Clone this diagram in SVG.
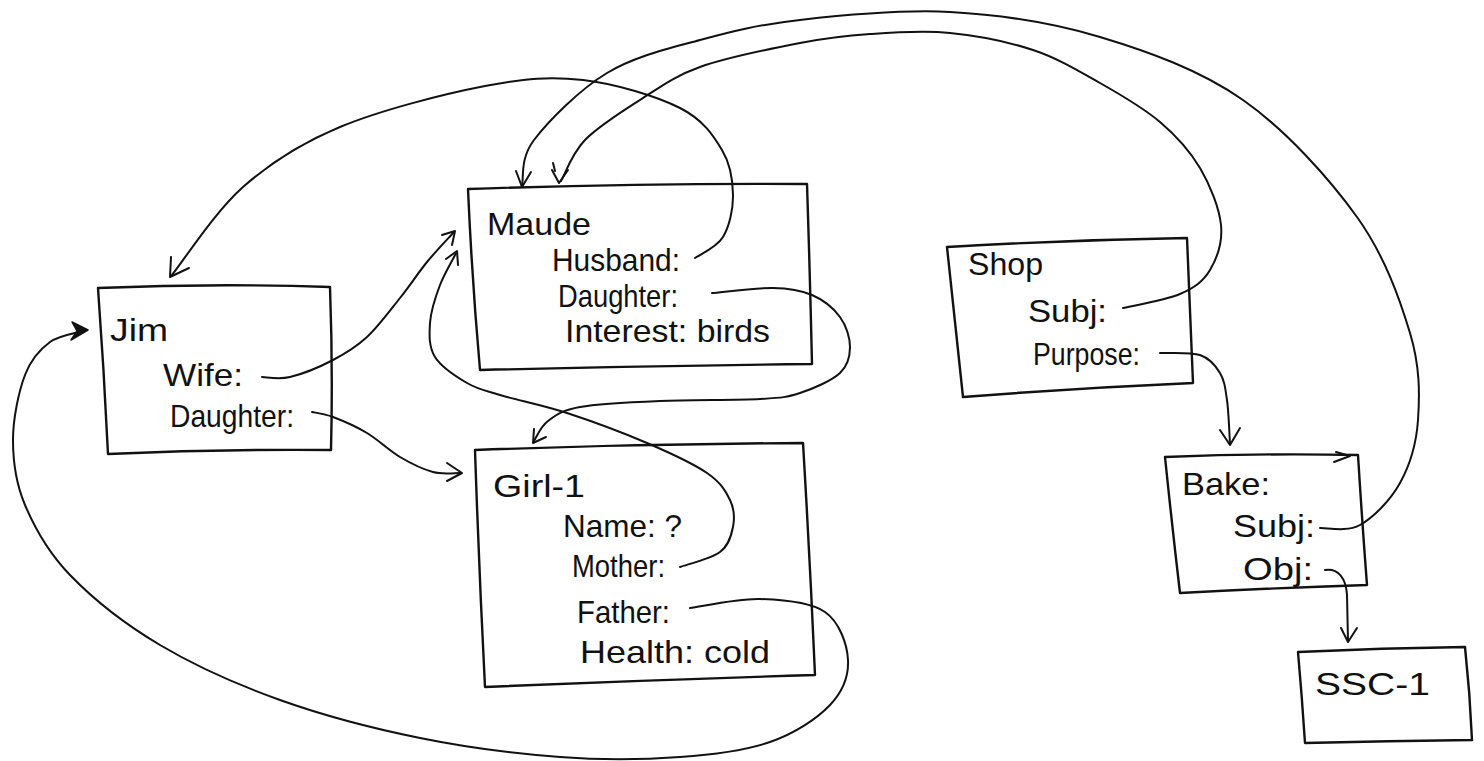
<svg xmlns="http://www.w3.org/2000/svg" width="1484" height="761" viewBox="0 0 1484 761">
<style>
.box{fill:none;stroke:#111;stroke-width:2.4;stroke-linejoin:round}
.lbl{font-family:"Liberation Sans",Arial,sans-serif;font-size:32px;fill:#111}
.wire{fill:none;stroke:#111;stroke-width:2;stroke-linecap:round}
.head{fill:none;stroke:#111;stroke-width:2;stroke-linejoin:round;stroke-linecap:round}
.solid{fill:#111;stroke:#111;stroke-width:1.5;stroke-linejoin:round}
</style>
<rect width="1484" height="761" fill="#fff"/>
<g id="connectors">
  <!-- Maude Husband -> Jim -->
  <path class="wire" d="M695,258 C699.7,254.5 716.7,247.5 723,237 C729.3,226.5 733.2,209.5 733,195 C732.8,180.5 730.8,164.5 722,150 C713.2,135.5 703.2,119.7 680,108 C656.8,96.3 615.5,83.7 583,80 C550.5,76.3 525.5,78.2 485,86 C444.5,93.8 380.3,110.2 340,127 C299.7,143.8 271,162.3 243,187 C215,211.7 183.8,260.3 172,275"/>
  <polyline class="head" points="171,257 170,277 189,268"/>
  <!-- Bake Subj -> Maude -->
  <path class="wire" d="M1320,528 C1326.7,527.5 1346.7,532.5 1360,525 C1373.3,517.5 1390.3,500.5 1400,483 C1409.7,465.5 1416.3,445 1418,420 C1419.7,395 1420.2,366.8 1410,333 C1399.8,299.2 1384.8,255.8 1357,217 C1329.2,178.2 1285.8,130 1243,100 C1200.2,70 1148.8,51.7 1100,37 C1051.2,22.3 1000,14.8 950,12 C900,9.2 841.7,15.3 800,20 C758.3,24.7 732.2,31.2 700,40 C667.8,48.8 634.7,56.3 607,73 C579.3,89.7 548.2,121.3 534,140 C519.8,158.7 524,177.5 522,185"/>
  <polyline class="head" points="516,171 522,187 531,172"/>
  <!-- Shop Subj -> Maude -->
  <path class="wire" d="M1123,308 C1132.5,305.7 1165.5,300.3 1180,294 C1194.5,287.7 1203.2,281.5 1210,270 C1216.8,258.5 1222.7,242 1221,225 C1219.3,208 1210.2,185.2 1200,168 C1189.8,150.8 1176.7,136.2 1160,122 C1143.3,107.8 1121.2,95 1100,83 C1078.8,71 1058,58.3 1033,50 C1008,41.7 977.2,35.7 950,33 C922.8,30.3 895,32.3 870,34 C845,35.7 828.3,37.5 800,43 C771.7,48.5 726.7,57.5 700,67 C673.3,76.5 659.2,87.8 640,100 C620.8,112.2 598.2,126.5 585,140 C571.8,153.5 565,174.2 561,181"/>
  <polyline class="head" points="552,170 559,183 568,170"/>
  <path class="wire" d="M553,163 L555,171"/>
  <!-- Jim Wife -> Maude -->
  <path class="wire" d="M262,377 C266.7,377 278.2,379.8 290,377 C301.8,374.2 320.2,366.7 333,360 C345.8,353.3 355.8,347.3 367,337 C378.2,326.7 390,310.5 400,298 C410,285.5 418,273 427,262 C436,251 449.5,237 454,232"/>
  <polyline class="head" points="442,235 455,231 452,245"/>
  <!-- Girl Mother -> Maude -->
  <path class="wire" d="M680,567 C686.7,564.5 711.2,558.7 720,552 C728.8,545.3 731.3,535.7 733,527 C734.7,518.3 734.3,509 730,500 C725.7,491 720.8,482.5 707,473 C693.2,463.5 670.3,453 647,443 C623.7,433 591.5,421 567,413 C542.5,405 516.7,400 500,395 C483.3,390 477.8,389.3 467,383 C456.2,376.7 441.2,367 435,357 C428.8,347 429.2,335 430,323 C430.8,311 435.5,296.8 440,285 C444.5,273.2 454.2,257.5 456,253"/>
  <polyline class="head" points="446,259 457,251 458,265"/>
  <!-- Maude Daughter -> Girl-1 -->
  <path class="wire" d="M712,293 C722.2,292.2 756.3,287.7 773,288 C789.7,288.3 800.8,290.2 812,295 C823.2,299.8 833.7,308.3 840,317 C846.3,325.7 850,337.7 850,347 C850,356.3 848.3,365.3 840,373 C831.7,380.7 813.3,388.7 800,393 C786.7,397.3 783.3,397.7 760,399 C736.7,400.3 690,399.7 660,401 C630,402.3 598.7,403.7 580,407 C561.3,410.3 555.7,415.3 548,421 C540.3,426.7 536.3,437.7 534,441"/>
  <polyline class="head" points="534,429 533,443 546,437"/>
  <!-- Jim Daughter -> Girl-1 -->
  <path class="wire" d="M312,412 C315.5,412.8 323.8,413.5 333,417 C342.2,420.5 355.8,426.3 367,433 C378.2,439.7 389,450.5 400,457 C411,463.5 423,469.3 433,472 C443,474.7 455.5,472.8 460,473"/>
  <polyline class="head" points="447,463 462,473 447,481"/>
  <!-- Girl Father -> Jim -->
  <path class="wire" d="M690,608 C701.7,606.5 737.5,598.3 760,599 C782.5,599.7 810.3,601.8 825,612 C839.7,622.2 847.2,644.5 848,660 C848.8,675.5 843,691.3 830,705 C817,718.7 795,733.3 770,742 C745,750.7 715,754.5 680,757 C645,759.5 603.3,760.2 560,757 C516.7,753.8 466.7,747.5 420,738 C373.3,728.5 323.3,715.5 280,700 C236.7,684.5 195,665.8 160,645 C125,624.2 92.5,598.3 70,575 C47.5,551.7 34.5,527.5 25,505 C15.5,482.5 13,461.7 13,440 C13,418.3 18.8,391.3 25,375 C31.2,358.7 40,349.3 50,342 C60,334.7 79.2,332.8 82,331"/>
  <polygon class="solid" points="88,330 72,322 77,331 71,340"/>
  <!-- Shop Purpose -> Bake -->
  <path class="wire" d="M1160,353 C1166.7,353.3 1190,351.7 1200,355 C1210,358.3 1215.5,365.5 1220,373 C1224.5,380.5 1225.3,388.2 1227,400 C1228.7,411.8 1229.5,436.7 1230,444"/>
  <polyline class="head" points="1220,430 1230,445 1240,428"/>
  <!-- Bake Obj -> SSC-1 -->
  <path class="wire" d="M1325,570 C1338,568 1346,578 1347,595 L1348,641"/>
  <polyline class="head" points="1341,628 1348,642 1357,628"/>
  <polyline class="head" points="1336,452 1350,456 1334,462"/>
</g>
<g id="jim">
  <path class="box" d="M98,288 Q215,283 330,287 Q333,370 331,450 Q220,449 108,454 Q104,370 98,288 Z"/>
  <text class="lbl" x="110" y="341" textLength="58" lengthAdjust="spacingAndGlyphs">Jim</text>
  <text class="lbl" x="163" y="386" textLength="80" lengthAdjust="spacingAndGlyphs">Wife:</text>
  <text class="lbl" x="170" y="427" textLength="124" lengthAdjust="spacingAndGlyphs">Daughter:</text>
</g>
<g id="maude">
  <path class="box" d="M468,189 Q640,183 807,184 Q810,275 812,364 Q645,366 480,370 Q472,280 468,189 Z"/>
  <text class="lbl" x="487" y="235" textLength="104" lengthAdjust="spacingAndGlyphs">Maude</text>
  <text class="lbl" x="552" y="271" textLength="128" lengthAdjust="spacingAndGlyphs">Husband:</text>
  <text class="lbl" x="558" y="307" textLength="120" lengthAdjust="spacingAndGlyphs">Daughter:</text>
  <text class="lbl" x="565" y="342" textLength="205" lengthAdjust="spacingAndGlyphs">Interest: birds</text>
</g>
<g id="girl-1">
  <path class="box" d="M475,450 Q640,444 803,443 Q810,560 815,675 Q650,680 485,687 Q479,570 475,450 Z"/>
  <text class="lbl" x="493" y="497" textLength="92" lengthAdjust="spacingAndGlyphs">Girl-1</text>
  <text class="lbl" x="563" y="537" textLength="119" lengthAdjust="spacingAndGlyphs">Name: ?</text>
  <text class="lbl" x="572" y="577" textLength="93" lengthAdjust="spacingAndGlyphs">Mother:</text>
  <text class="lbl" x="577" y="623" textLength="93" lengthAdjust="spacingAndGlyphs">Father:</text>
  <text class="lbl" x="580" y="663" textLength="190" lengthAdjust="spacingAndGlyphs">Health: cold</text>
</g>
<g id="shop">
  <path class="box" d="M947,247 Q1067,240 1187,238 Q1190,310 1193,383 Q1078,388 963,397 Q955,322 947,247 Z"/>
  <text class="lbl" x="968" y="275" textLength="75" lengthAdjust="spacingAndGlyphs">Shop</text>
  <text class="lbl" x="1028" y="322" textLength="79" lengthAdjust="spacingAndGlyphs">Subj:</text>
  <text class="lbl" x="1033" y="365" textLength="107" lengthAdjust="spacingAndGlyphs">Purpose:</text>
</g>
<g id="bake">
  <path class="box" d="M1165,457 Q1262,453 1358,455 Q1362,520 1367,585 Q1273,588 1180,593 Q1172,525 1165,457 Z"/>
  <text class="lbl" x="1182" y="495" textLength="88" lengthAdjust="spacingAndGlyphs">Bake:</text>
  <text class="lbl" x="1233" y="537" textLength="82" lengthAdjust="spacingAndGlyphs">Subj:</text>
  <text class="lbl" x="1243" y="580" textLength="70" lengthAdjust="spacingAndGlyphs">Obj:</text>
</g>
<g id="ssc-1">
  <path class="box" d="M1298,652 Q1382,648 1465,647 Q1470,693 1472,740 Q1388,741 1305,743 Q1302,697 1298,652 Z"/>
  <text class="lbl" x="1315" y="695" textLength="115" lengthAdjust="spacingAndGlyphs">SSC-1</text>
</g>
</svg>
